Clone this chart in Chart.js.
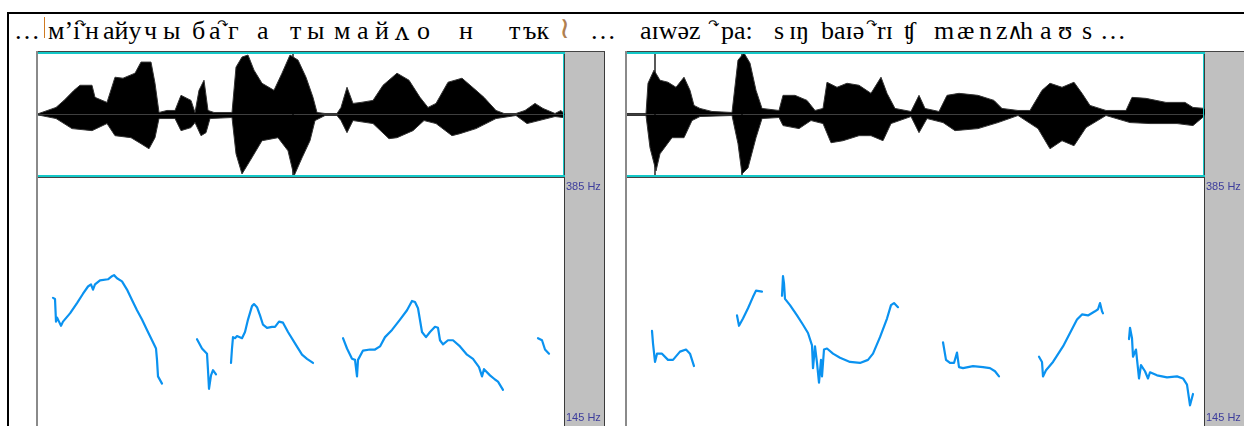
<!DOCTYPE html>
<html><head><meta charset="utf-8">
<script src="https://cdn.jsdelivr.net/npm/chart.js@4.4.1/dist/chart.umd.min.js"></script>
<style>
html,body{margin:0;padding:0;background:#fff;width:1244px;height:426px;overflow:hidden;position:relative}
.a{position:absolute}
.h{position:absolute;top:18px;font-family:"Liberation Serif","Times New Roman",serif;font-size:26px;line-height:26px;color:#000;white-space:pre}
.tie{position:absolute;top:18px;font-family:"DejaVu Sans",sans-serif;font-size:13px;line-height:13px;color:#000}
canvas{position:absolute;display:block}
</style></head><body>
<div class="a" style="left:7px;top:12px;width:1237px;height:2px;background:#000"></div>
<div class="a" style="left:7px;top:12px;width:2px;height:414px;background:#000"></div>

<!-- header left -->
<span class="h" style="left:14px">…</span>
<div class="a" style="left:44px;top:17px;width:1px;height:21px;background:#d07a20"></div>
<span class="h" style="left:48px">м’і</span>
<span class="tie" style="left:75px">↷</span>
<span class="h" style="left:85px">н</span>
<span class="h" style="left:103px">айу</span>
<span class="h" style="left:144px">ч</span>
<span class="h" style="left:163px">ы</span>
<span class="h" style="left:192px">б</span>
<span class="h" style="left:209px">а</span>
<span class="tie" style="left:217px">↷</span>
<span class="h" style="left:228px">г</span>
<span class="h" style="left:257px">а</span>
<span class="h" style="left:290px">т</span>
<span class="h" style="left:307px">ы</span>
<span class="h" style="left:334px">м</span>
<span class="h" style="left:357px">а</span>
<span class="h" style="left:375px">й</span>
<span class="h" style="left:395px;font-family:'DejaVu Serif',serif;font-size:25px;top:19px">ʌ</span>
<span class="h" style="left:417px">о</span>
<span class="h" style="left:459px">н</span>
<span class="h" style="left:509px">т</span>
<span class="h" style="left:523px">ък</span>
<span class="h" style="left:559px;top:15px;color:#b08050;font-family:'DejaVu Sans';font-size:30px">≀</span>
<span class="h" style="left:590px">…</span>

<!-- header right -->
<span class="h" style="left:640px">aɪwəz</span>
<span class="tie" style="left:708px">↷</span>
<span class="h" style="left:721px">pa:</span>
<span class="h" style="left:774px">s</span>
<span class="h" style="left:789px">ɪŋ</span>
<span class="h" style="left:821px">baɪə</span>
<span class="tie" style="left:866px">↷</span>
<span class="h" style="left:877px">rɪ</span>
<span class="h" style="left:904px">ʧ</span>
<span class="h" style="left:934px">m</span>
<span class="h" style="left:957px">æ</span>
<span class="h" style="left:979px">n</span>
<span class="h" style="left:996px">z</span>
<span class="h" style="left:1007px;font-family:'DejaVu Serif',serif;font-size:22px;top:19px">∧</span>
<span class="h" style="left:1020px">h</span>
<span class="h" style="left:1040px">a</span>
<span class="h" style="left:1058px">ʊ</span>
<span class="h" style="left:1082px">s</span>
<span class="h" style="left:1100px">…</span>

<canvas id="waveL" width="569" height="127" style="left:36px;top:51px"></canvas>
<canvas id="pitchL" width="569" height="248" style="left:36px;top:178px"></canvas>
<canvas id="waveR" width="619" height="127" style="left:625px;top:51px"></canvas>
<canvas id="pitchR" width="619" height="248" style="left:625px;top:178px"></canvas>

<script>
// ---------- DATA ----------
// waveform envelopes: [time, amplitude]
const waveLTop = [[0,0],[20,7],[28,14],[38,24],[44,29],[56,29],[59,17],[71,12],[79,37],[87,36],[99,41],[105,52],[115,52],[119,31],[123,2],[131,4],[139,4],[145,19],[155,14],[159,2],[163,24],[168,34],[172,4],[178,2],[196,2],[200,47],[206,57],[212,59],[218,44],[226,31],[238,24],[246,41],[254,59],[262,54],[270,37],[277,17],[281,2],[289,1],[301,1],[305,7],[311,27],[317,11],[325,12],[337,14],[347,29],[361,41],[373,34],[384,17],[392,7],[400,11],[412,32],[426,36],[440,24],[448,17],[460,4],[468,1],[480,1],[489,4],[499,11],[507,6],[519,1],[525,4],[529,0]];
const waveLBottom = [[0,0],[20,-4],[36,-14],[56,-16],[71,-9],[79,-21],[95,-23],[105,-29],[113,-34],[119,-23],[123,-4],[131,-4],[139,-4],[145,-16],[155,-13],[159,-8],[165,-21],[170,-18],[174,-4],[196,-3],[200,-39],[206,-59],[214,-46],[226,-26],[242,-23],[252,-36],[258,-61],[266,-43],[274,-26],[279,-6],[289,-1],[301,-1],[305,-6],[311,-18],[317,-6],[337,-9],[353,-24],[361,-23],[377,-16],[388,-6],[400,-9],[416,-21],[424,-19],[440,-14],[460,-4],[480,-1],[491,-9],[503,-6],[519,-2],[527,-3],[529,0]];
const waveRTop = [[0,1],[21,1],[23,31],[29,44],[35,34],[43,32],[51,27],[59,37],[65,24],[69,9],[75,6],[87,3],[107,2],[113,54],[119,61],[125,51],[131,24],[137,6],[154,4],[158,19],[170,19],[182,14],[190,4],[198,6],[202,32],[212,27],[222,31],[234,29],[246,21],[256,37],[262,21],[270,6],[286,3],[294,19],[300,6],[314,3],[322,19],[334,21],[353,19],[369,14],[377,6],[393,4],[405,4],[417,24],[425,31],[437,27],[449,32],[457,21],[465,9],[481,4],[501,4],[507,17],[521,16],[541,12],[560,12],[568,7],[580,6]];
const waveRBottom = [[0,-1],[21,-1],[25,-33],[31,-56],[35,-39],[47,-23],[59,-23],[67,-6],[75,-2],[107,-1],[113,-29],[117,-59],[123,-53],[131,-23],[137,-4],[154,-3],[158,-11],[174,-14],[186,-6],[198,-9],[206,-28],[218,-26],[234,-21],[246,-21],[258,-26],[266,-9],[286,-2],[294,-18],[302,-4],[318,-8],[330,-16],[353,-14],[373,-8],[393,-1],[413,-14],[425,-34],[437,-26],[449,-31],[461,-13],[481,-1],[505,-8],[525,-9],[552,-9],[568,-11],[580,-1]];
const cursorsL = [257];
const cursorsR = [30, 117];

// pitch segments: [time, Hz]
const pitchL1 = [[17,269],[19,268],[20,246],[21,250],[23,246],[25,242],[27,246],[34,254],[41,264],[47,273],[52,280],[55,282],[57,277],[59,282],[64,286],[72,287],[76,290],[78,291],[81,288],[86,285],[91,277],[96,267],[101,257],[106,248],[111,238],[116,228],[120,220],[121,209],[122,193],[126,186]];
const pitchL2 = [[161,229],[166,220],[171,215],[172,199],[173,181],[175,194],[177,199],[180,195]];
const pitchL3 = [[195,206],[196,220],[197,231],[199,230],[201,232],[206,230],[209,236],[212,248],[216,261],[218,263],[221,260],[224,252],[227,243],[231,240],[236,241],[239,241],[243,246],[247,245],[252,236],[259,225],[266,214],[271,210],[277,206]];
const pitchL4 = [[307,230],[311,220],[316,210],[319,209],[321,193],[322,209],[327,218],[334,219],[339,219],[344,222],[349,231],[356,238],[364,248],[371,257],[376,266],[379,265],[382,259],[386,236],[390,231],[394,236],[399,241],[402,240],[404,228],[407,224],[412,228],[417,228],[424,222],[431,214],[437,210],[443,202],[446,193],[448,200],[454,194],[459,190],[462,188],[467,180]];
const pitchL5 = [[502,230],[506,228],[509,219],[513,215]];
const pitchR1 = [[27,237],[28,225],[30,207],[32,215],[37,215],[43,209],[48,209],[55,217],[61,219],[65,215],[69,203]];
const pitchR2 = [[112,252],[114,242],[118,249],[123,259],[128,270],[131,276],[137,275]];
const pitchR3 = [[157,271],[158,290],[159,283],[160,268],[165,262],[172,252],[178,243],[183,235],[187,223],[188,201],[190,222],[192,206],[194,187],[196,209],[197,193],[199,219],[202,220],[208,215],[215,211],[225,207],[235,206],[243,209],[248,215],[255,231],[262,249],[266,262],[269,264],[273,260]];
const pitchR4 = [[318,226],[321,209],[325,206],[329,206],[332,216],[334,202],[338,201],[348,203],[358,202],[365,201],[370,198],[374,193]];
const pitchR5 = [[414,212],[417,207],[418,193],[421,199],[428,207],[438,222],[445,235],[452,248],[457,253],[463,252],[470,256],[473,258],[475,264],[477,256],[478,254]];
const pitchR6 = [[504,229],[505,240],[507,230],[508,212],[511,219],[514,191],[516,204],[520,198],[523,191],[525,197],[532,194],[542,192],[552,193],[558,191],[562,185],[565,165],[568,176]];

const durationL = 529, durationR = 580;
const pitchTicks = [385, 145];
const pitchTickLabels = ['385 Hz', '145 Hz'];
const ampMin = -63, ampMax = 63;

// ---------- HELPERS ----------
const pts = a => a.map(p => ({x:p[0], y:p[1]}));

const sideBar = {
  id:'sideBar',
  beforeDraw(chart){
    const {ctx, chartArea:ca, width, height} = chart;
    const o = chart.options.plugins.sideBar;
    ctx.save();
    ctx.fillStyle = '#c0c0c0';
    ctx.fillRect(ca.right, 0, width - ca.right, height);
    ctx.fillStyle = '#3a3a3a';
    ctx.fillRect(ca.right - 1, 0, 1, height);
    if (o.rightLine) ctx.fillRect(width - 1, 0, 1, height);
    ctx.fillStyle = '#8a8a8a';
    ctx.fillRect(0, 0, 2, height);
    ctx.restore();
  }
};

const waveFrame = {
  id:'waveFrame',
  beforeDatasetsDraw(chart){
    const {ctx, chartArea:ca, scales:{y}} = chart;
    ctx.save();
    ctx.strokeStyle = '#8aa';
    ctx.lineWidth = 1;
    const zy = Math.round(y.getPixelForValue(0)) + 0.5;
    ctx.beginPath(); ctx.moveTo(ca.left, zy); ctx.lineTo(ca.right, zy); ctx.stroke();
    ctx.restore();
  },
  afterDraw(chart){
    const {ctx, chartArea:ca, width} = chart;
    ctx.save();
    ctx.fillStyle = '#444';
    ctx.fillRect(0, 0, width, 1);
    ctx.fillRect(0, ca.bottom - 1, ca.right, 1);
    ctx.fillStyle = '#14c8c8';
    ctx.fillRect(2, 1, ca.right - 2, 2);
    ctx.fillRect(2, ca.bottom - 3, ca.right - 2, 2);
    ctx.fillRect(ca.right - 2, 1, 1, ca.bottom - 2);
    ctx.fillStyle = '#8a8a8a';
    ctx.fillRect(0, 0, 2, ca.bottom);
    ctx.restore();
  }
};

const hzLabels = {
  id:'hzLabels',
  afterDraw(chart){
    const {ctx, chartArea:ca, scales:{y}} = chart;
    ctx.save();
    ctx.font = '11px "Liberation Sans", Arial, sans-serif';
    ctx.fillStyle = '#3c3c9c';
    ctx.textAlign = 'left';
    pitchTicks.forEach((v, i) => {
      const py = y.getPixelForValue(v);
      const atTop = v === y.max;
      ctx.textBaseline = atTop ? 'top' : 'bottom';
      ctx.fillText(pitchTickLabels[i], ca.right + 1, atTop ? py + 3 : py - 3);
    });
    ctx.restore();
  }
};

function baseOptions(xmax, ymin, ymax, rightLine, gray){
  return {
    responsive:false, animation:false, devicePixelRatio:1,
    layout:{padding:{left:0, right:gray, top:0, bottom:0}},
    scales:{
      x:{type:'linear', min:0, max:xmax, display:false},
      y:{type:'linear', min:ymin, max:ymax, display:false}
    },
    plugins:{legend:{display:false}, tooltip:{enabled:false}, sideBar:{rightLine}},
    elements:{point:{radius:0}, line:{tension:0}}
  };
}

function makeWave(id, top, bottom, cursors, dur, rightLine, gray){
  const ds = [
    {data:pts(top), borderColor:'#333', borderWidth:1, backgroundColor:'#000', fill:'origin'},
    {data:pts(bottom), borderColor:'#333', borderWidth:1, backgroundColor:'#000', fill:'origin'}
  ];
  cursors.forEach(c => ds.push({data:[{x:c, y:ampMin}, {x:c, y:ampMax}], borderColor:'#222', borderWidth:1.5, fill:false}));
  new Chart(document.getElementById(id), {type:'line', data:{datasets:ds}, options:baseOptions(dur, ampMin, ampMax, rightLine, gray), plugins:[sideBar, waveFrame]});
}

function makePitch(id, segs, dur, rightLine, gray){
  const ds = segs.map(s => ({data:pts(s), borderColor:'#0a92f0', borderWidth:2.2, fill:false, borderJoinStyle:'round', borderCapStyle:'round'}));
  new Chart(document.getElementById(id), {type:'line', data:{datasets:ds}, options:baseOptions(dur, 145, 385, rightLine, gray), plugins:[sideBar, hzLabels]});
}

makeWave('waveL', waveLTop, waveLBottom, cursorsL, durationL, true, 40);
makePitch('pitchL', [pitchL1, pitchL2, pitchL3, pitchL4, pitchL5], durationL, true, 40);
makeWave('waveR', waveRTop, waveRBottom, cursorsR, durationR, false, 39);
makePitch('pitchR', [pitchR1, pitchR2, pitchR3, pitchR4, pitchR5, pitchR6], durationR, false, 39);
</script>
</body></html>
